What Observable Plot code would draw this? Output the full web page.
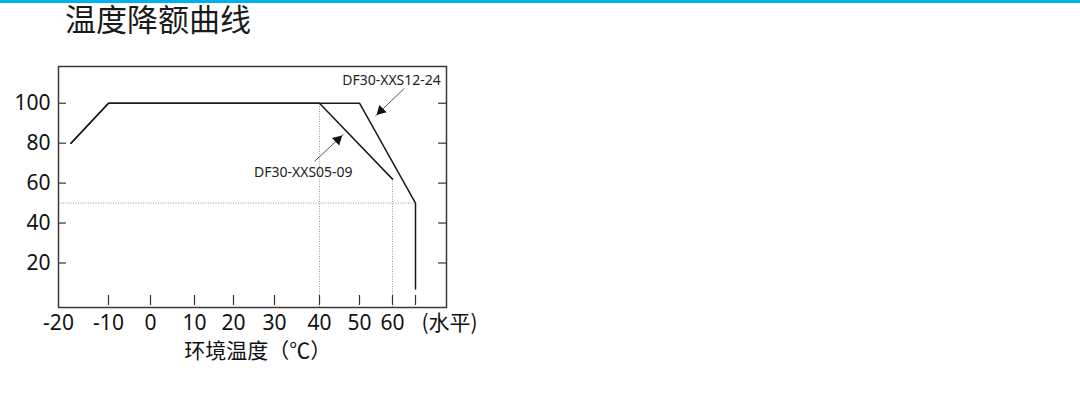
<!DOCTYPE html>
<html>
<head>
<meta charset="utf-8">
<script src="https://cdn.jsdelivr.net/npm/d3@7"></script>
<script src="https://cdn.jsdelivr.net/npm/@observablehq/plot@0.6"></script>
<style>
  @font-face { font-family: "TitleCJK"; src: local("Noto Sans CJK SC"), local("NotoSansCJKsc-Regular"), local("Noto Sans CJK SC Regular"); ascent-override: 90%; descent-override: 12%; line-gap-override: 0%; }
  html, body { margin: 0; padding: 0; background: #fff; width: 1080px; height: 401px; overflow: hidden; }
  #bar { height: 3px; background: #00b0f0; }
  #title { height: 47px; padding-left: 65px; box-sizing: border-box; font-family: "TitleCJK", "Noto Sans CJK SC", sans-serif; font-size: 31px; line-height: normal; color: #1a1a1a; }
  #chart svg { display: block; }
</style>
</head>
<body>
<div id="bar"></div>
<div id="title">温度降额曲线</div>
<div id="chart"></div>
<script>
// Tick values and labels
const xTickLabels = [-20, -10, 0, 10, 20, 30, 40, 50, 60];
const xTickMarks = [-10, 0, 10, 20, 30, 40, 50, 60, 65];
const yTicks = [20, 40, 60, 80, 100];

// Derating curves (temperature °C, load %)
const series0509Temp = [-17.5, -10, 40, 60];
const series0509Load = [80, 100, 100, 62];
const series1224Temp = [-17.5, -10, 50, 65, 65];
const series1224Load = [80, 100, 100, 50, 7];

// Reference (dotted) lines
const refVerticalTemp = [40, 60];
const refVerticalLoad = [100, 62];
const refHorizontalLoad = 50;
const refHorizontalTo = 65;

// Annotations
const annotationNames = ["DF30-XXS12-24", "DF30-XXS05-09"];
const annotationTemp = [59.7, 36.4];
const annotationLoad = [111.5, 65.3];
const arrowFromTemp = [62.6, 38.9];
const arrowFromLoad = [107.5, 70.9];
const arrowToTemp = [54.8, 46.0];
const arrowToLoad = [93.5, 84.4];

const curve0509 = series0509Temp.map((t, i) => ({t, v: series0509Load[i]}));
const curve1224 = series1224Temp.map((t, i) => ({t, v: series1224Load[i]}));
const refV = refVerticalTemp.map((t, i) => ({t, v: refVerticalLoad[i]}));
const notes = annotationNames.map((name, i) => ({name, t: annotationTemp[i], v: annotationLoad[i]}));
const arrows = annotationNames.map((name, i) => ({
  x1: arrowFromTemp[i], y1: arrowFromLoad[i], x2: arrowToTemp[i], y2: arrowToLoad[i]
}));

const font = "'Noto Sans', 'Noto Sans CJK SC', sans-serif";
const plotH = 241;

const chart = Plot.plot({
  width: 1080,
  height: 351,
  marginLeft: 58,
  marginRight: 634,
  marginTop: 16,
  marginBottom: 94,
  style: {fontFamily: font, color: "#111", background: "#fff", overflow: "visible"},
  x: {
    type: "linear",
    domain: [-20, -10, 0, 10, 20, 30, 40, 50, 60, 65, 71.7],
    range: [58, 108, 150, 194, 233, 274, 319, 359, 392, 415, 446]
  },
  y: {domain: [-2.3, 118.4]},
  marks: [
    // dotted reference lines
    Plot.ruleX(refV, {x: "t", y1: -2.3, y2: "v", stroke: "#9a9a9a", strokeWidth: 1, strokeDasharray: "1,1.5"}),
    Plot.ruleY([refHorizontalLoad], {x1: -20, x2: refHorizontalTo, stroke: "#9a9a9a", strokeWidth: 1, strokeDasharray: "1,1.5"}),
    // inward ticks
    Plot.ruleX(xTickMarks, {stroke: "#333", strokeWidth: 1.2, insetTop: plotH - 12, insetBottom: 2}),
    Plot.ruleY(yTicks, {stroke: "#333", strokeWidth: 1.2, insetRight: 388 - 8}),
    Plot.ruleY(yTicks, {stroke: "#333", strokeWidth: 1.2, insetLeft: 388 - 8}),
    // axis labels
    Plot.axisY({ticks: yTicks, tickSize: 0, tickPadding: 8, fontSize: 21, label: null}),
    Plot.axisX({ticks: xTickLabels, tickSize: 0, tickPadding: 8, fontSize: 21, label: null, tickFormat: d => String(d)}),
    Plot.text(["(水平)"], {x: 66.3, frameAnchor: "bottom", textAnchor: "start", lineAnchor: "top", dy: 8, fontSize: 21, fill: "#111", fontFamily: "'Noto Sans CJK SC', sans-serif"}),
    Plot.text(["环境温度（℃）"], {x: 25.9, frameAnchor: "bottom", lineAnchor: "top", dy: 36, fontSize: 21, fill: "#111", fontFamily: "'Noto Sans CJK SC', sans-serif"}),
    // curves
    Plot.line(curve1224, {x: "t", y: "v", stroke: "#1a1a1a", strokeWidth: 1.5}),
    Plot.line(curve0509, {x: "t", y: "v", stroke: "#1a1a1a", strokeWidth: 1.5}),
    // annotations
    Plot.text(notes, {x: "t", y: "v", text: "name", fontSize: 14, fill: "#222"}),
    Plot.link(arrows, {x1: "x1", y1: "y1", x2: "x2", y2: "y2", stroke: "#555", strokeWidth: 1}),
    Plot.dot([arrows[0]], {x: "x2", y: "y2", symbol: "triangle2", r: 5, fill: "#111", rotate: 225, dx: 5.5, dy: -5.5}),
    Plot.dot([arrows[1]], {x: "x2", y: "y2", symbol: "triangle2", r: 5, fill: "#111", rotate: 47, dx: -5.7, dy: 5.3}),
    Plot.frame({stroke: "#3a3a3a", strokeWidth: 1.5})
  ]
});
document.getElementById("chart").appendChild(chart);
</script>
</body>
</html>
